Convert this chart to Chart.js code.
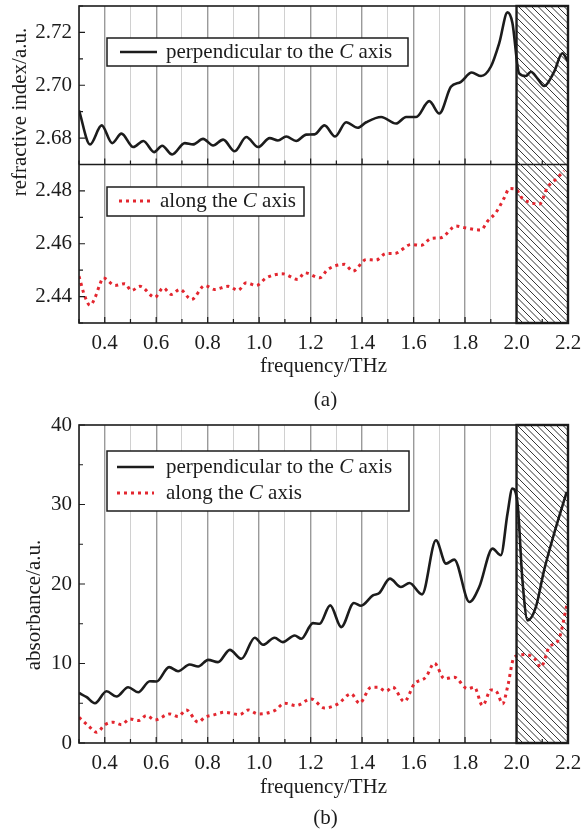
<!DOCTYPE html>
<html>
<head>
<meta charset="utf-8">
<script src="https://cdn.jsdelivr.net/npm/chart.js@4.4.1/dist/chart.umd.min.js"></script>
<style>
  html, body { margin: 0; padding: 0; background: #fff; }
  body { width: 584px; height: 830px; position: relative; overflow: hidden; }
  canvas { position: absolute; left: 0; }
  #chartA { top: 0; }
  #chartB { top: 410px; }
</style>
</head>
<body>
<canvas id="chartA" width="584" height="410"></canvas>
<canvas id="chartB" width="584" height="420"></canvas>
<script>
'use strict';

/* ── values ─────────────────────────────────────────────────────────────── */

// tick labels
const X_LABELS = ['0.4', '0.6', '0.8', '1.0', '1.2', '1.4', '1.6', '1.8', '2.0', '2.2'];
const Y_LABELS_N_HIGH = ['2.68', '2.70', '2.72'];
const Y_LABELS_N_LOW = ['2.44', '2.46', '2.48'];
const Y_LABELS_ABS = ['0', '10', '20', '30', '40'];

// (a) refractive index, perpendicular to the C axis
const A_PERP_F = [0.30, 0.343, 0.388, 0.429, 0.465, 0.511, 0.55, 0.592, 0.623, 0.662, 0.711, 0.743, 0.782,
    0.821, 0.86, 0.905, 0.95, 0.996, 1.041, 1.073, 1.105, 1.144, 1.183, 1.215, 1.254, 1.295, 1.338, 1.383,
    1.416, 1.474, 1.532, 1.571, 1.61, 1.661, 1.70, 1.745, 1.784, 1.826, 1.862, 1.90, 1.933, 1.965, 1.984,
    2.01, 2.036, 2.056, 2.081, 2.107, 2.146, 2.178, 2.2];
const A_PERP_N = [2.6905, 2.6776, 2.6848, 2.6781, 2.6817, 2.6766, 2.6789, 2.6747, 2.6771, 2.6738, 2.6781,
    2.6776, 2.6797, 2.6772, 2.6794, 2.6750, 2.6804, 2.6766, 2.6800, 2.6791, 2.6806, 2.6789, 2.6813, 2.6814,
    2.6848, 2.6806, 2.6860, 2.6839, 2.6860, 2.6880, 2.6855, 2.6880, 2.6880, 2.6940, 2.6893, 2.6994, 2.7013,
    2.7048, 2.7035, 2.7070, 2.7160, 2.7276, 2.7236, 2.7045, 2.7035, 2.7051, 2.7026, 2.6997, 2.7051, 2.7121,
    2.7090];

// (a) refractive index, along the C axis
const A_ALONG_F = [0.30, 0.323, 0.343, 0.362, 0.381, 0.394, 0.44, 0.478, 0.504, 0.537, 0.595, 0.627, 0.659,
    0.692, 0.737, 0.789, 0.827, 0.879, 0.918, 0.95, 0.989, 1.028, 1.092, 1.15, 1.177, 1.235, 1.267, 1.332,
    1.364, 1.416, 1.454, 1.493, 1.526, 1.59, 1.629, 1.668, 1.707, 1.765, 1.797, 1.862, 1.888, 1.92, 1.953,
    1.972, 1.998, 2.023, 2.056, 2.088, 2.12, 2.153, 2.185];
const A_ALONG_N = [2.4477, 2.4400, 2.4367, 2.4395, 2.4446, 2.4471, 2.4442, 2.4449, 2.4423, 2.4439, 2.4397,
    2.4433, 2.4408, 2.4427, 2.4389, 2.4442, 2.4427, 2.4439, 2.4424, 2.4452, 2.4442, 2.4471, 2.4486, 2.4465,
    2.4490, 2.4471, 2.4503, 2.4522, 2.4496, 2.4540, 2.4538, 2.4563, 2.4563, 2.4597, 2.4594, 2.4620, 2.4623,
    2.4667, 2.4661, 2.4652, 2.4686, 2.4718, 2.4775, 2.4809, 2.4806, 2.4771, 2.4756, 2.4749, 2.4813, 2.4844,
    2.4876];

// (b) absorbance, perpendicular to the C axis
const B_PERP_F = [0.30, 0.33, 0.362, 0.407, 0.446, 0.491, 0.53, 0.575, 0.601, 0.65, 0.685, 0.73, 0.763,
    0.802, 0.84, 0.886, 0.931, 0.983, 1.015, 1.06, 1.092, 1.138, 1.164, 1.209, 1.235, 1.276, 1.319, 1.368,
    1.396, 1.442, 1.467, 1.508, 1.551, 1.584, 1.633, 1.687, 1.726, 1.758, 1.817, 1.855, 1.907, 1.939, 1.965,
    1.984, 2.004, 2.023, 2.043, 2.075, 2.107, 2.146, 2.195];
const B_PERP_A = [6.3, 5.76, 5.0, 6.51, 5.84, 7.02, 6.39, 7.77, 7.73, 9.54, 9.03, 9.87, 9.62, 10.46, 10.17,
    11.72, 10.59, 13.24, 12.35, 13.24, 12.69, 13.53, 13.11, 15.08, 15.0, 17.31, 14.58, 17.61, 17.27, 18.57,
    18.87, 20.67, 19.62, 20.13, 18.7, 25.5, 22.56, 23.07, 17.73, 19.62, 24.45, 23.61, 28.87, 32.02, 30.13,
    20.46, 15.42, 17.1, 21.72, 26.34, 31.6];

// (b) absorbance, along the C axis
const B_ALONG_F = [0.30, 0.336, 0.369, 0.401, 0.433, 0.465, 0.498, 0.53, 0.562, 0.595, 0.653, 0.685, 0.717,
    0.763, 0.789, 0.827, 0.866, 0.924, 0.957, 0.996, 1.06, 1.099, 1.144, 1.202, 1.254, 1.306, 1.357, 1.39,
    1.435, 1.461, 1.493, 1.519, 1.564, 1.603, 1.648, 1.681, 1.72, 1.758, 1.81, 1.836, 1.868, 1.901, 1.924,
    1.946, 1.965, 1.991, 2.036, 2.075, 2.094, 2.127, 2.165, 2.195];
const B_ALONG_A = [3.24, 2.18, 1.34, 2.31, 2.61, 2.31, 3.03, 2.82, 3.45, 2.9, 3.66, 3.32, 4.16, 2.61, 3.24,
    3.57, 3.87, 3.57, 4.16, 3.66, 4.08, 5.0, 4.71, 5.55, 4.41, 4.92, 6.18, 5.0, 7.02, 7.02, 6.51, 7.02, 5.21,
    7.44, 8.28, 10.04, 8.07, 8.28, 6.81, 7.02, 4.71, 6.68, 6.39, 4.92, 7.02, 10.8, 11.13, 10.46, 9.54, 12.06,
    13.11, 17.31];

const HATCH_START = 2.0;

/* ── styling ────────────────────────────────────────────────────────────── */

const SERIF = '"Liberation Serif", "Times New Roman", serif';
const FONT_PX = 21;
const INK = '#1c1c1c';
const RED = '#e3262f';
const RED_DASH = [3, 4];

const isMajor = v => Math.round(v * 10) % 2 === 0;
const pairs = (xs, ys) => xs.map((x, i) => ({ x, y: ys[i] }));

// pin the plot area: no automatic label overhang padding
function noOverhang(s) {
    s.paddingTop = 0;
    s.paddingBottom = 0;
    s.paddingLeft = 0;
    s.paddingRight = 0;
}

function xAxis() {
    return {
        type: 'linear',
        min: 0.3,
        max: 2.2,
        afterFit: s => { s.height = 87; noOverhang(s); },
        border: { display: false },
        grid: {
            drawTicks: false,
            color: c => isMajor(c.tick.value) ? '#9a9a9a' : '#d0d0d0',
            lineWidth: c => isMajor(c.tick.value) ? 1.4 : 1,
        },
        ticks: {
            stepSize: 0.1,
            autoSkip: false,
            maxRotation: 0,
            padding: 8,
            color: INK,
            font: { family: SERIF, size: FONT_PX },
            callback: v => X_LABELS.includes(v.toFixed(1)) ? v.toFixed(1) : '',
        },
    };
}

function yAxis(min, max, step, labels, digits, extra) {
    return Object.assign({
        type: 'linear',
        position: 'left',
        min,
        max,
        afterFit: s => { s.width = 79; noOverhang(s); },
        border: { display: false },
        grid: { display: false, drawTicks: false },
        ticks: {
            stepSize: step,
            autoSkip: false,
            padding: 7,
            color: INK,
            font: { family: SERIF, size: FONT_PX },
            callback: v => labels.includes(v.toFixed(digits)) ? v.toFixed(digits) : '',
        },
    }, extra || {});
}

function lineSet(label, data, yAxisID, dashed) {
    return {
        label,
        data,
        yAxisID,
        borderColor: dashed ? RED : INK,
        borderWidth: dashed ? 3 : 2.6,
        borderDash: dashed ? RED_DASH : [],
        borderCapStyle: 'butt',
        pointRadius: 0,
        fill: false,
        cubicInterpolationMode: 'monotone',
    };
}

/* ── text helpers ───────────────────────────────────────────────────────── */

function drawParts(ctx, x, y, parts) {
    ctx.textBaseline = 'middle';
    ctx.textAlign = 'left';
    ctx.fillStyle = INK;
    parts.forEach(p => {
        ctx.font = (p.italic ? 'italic ' : '') + FONT_PX + 'px ' + SERIF;
        ctx.fillText(p.t, x, y);
        x += ctx.measureText(p.t).width;
    });
}

const captionParts = prefix => [{ t: prefix + ' ' }, { t: 'C', italic: true }, { t: ' axis' }];

function drawLegend(ctx, box, rows) {
    const [x0, y0, x1, y1] = box;
    ctx.save();
    ctx.fillStyle = '#fff';
    ctx.fillRect(x0, y0, x1 - x0, y1 - y0);
    ctx.strokeStyle = INK;
    ctx.lineWidth = 1.5;
    ctx.strokeRect(x0, y0, x1 - x0, y1 - y0);
    rows.forEach(r => {
        ctx.beginPath();
        ctx.setLineDash(r.dashed ? RED_DASH : []);
        ctx.strokeStyle = r.dashed ? RED : INK;
        ctx.lineWidth = r.dashed ? 3 : 2.6;
        ctx.moveTo(r.lx0, r.y);
        ctx.lineTo(r.lx1, r.y);
        ctx.stroke();
        ctx.setLineDash([]);
        drawParts(ctx, r.tx, r.y, r.parts);
    });
    ctx.restore();
}

/* ── frame, hatch, inward ticks, titles ─────────────────────────────────── */

function decorPlugin(cfg) {
    return {
        id: 'decor',
        beforeDatasetsDraw(chart) {
            const { ctx, chartArea: a, scales } = chart;
            const x0 = scales.x.getPixelForValue(HATCH_START);
            const h = a.bottom - a.top;
            ctx.save();
            ctx.beginPath();
            ctx.rect(x0, a.top, a.right - x0, h);
            ctx.clip();
            ctx.fillStyle = '#fff';
            ctx.fillRect(x0, a.top, a.right - x0, h);
            ctx.strokeStyle = '#333';
            ctx.lineWidth = 1;
            ctx.beginPath();
            for (let s = x0 - h; s < a.right + 2; s += 6.5) {
                ctx.moveTo(s, a.top);
                ctx.lineTo(s + h, a.bottom);
            }
            ctx.stroke();
            ctx.restore();
        },
        afterDatasetsDraw(chart) {
            const { ctx, chartArea: a, scales } = chart;
            const xs = scales.x;
            ctx.save();
            ctx.strokeStyle = INK;

            // inward x ticks on the bottom axis and on any panel separator
            const bases = [a.bottom].concat(cfg.yIds.slice(1).map(id => scales[id].bottom));
            ctx.lineWidth = 1.2;
            ctx.beginPath();
            xs.ticks.forEach(t => {
                const px = xs.getPixelForValue(t.value);
                const len = isMajor(t.value) ? 6 : 4;
                bases.forEach(b => { ctx.moveTo(px, b); ctx.lineTo(px, b - len); });
            });
            // inward y ticks
            cfg.yIds.forEach(id => {
                const ys = scales[id];
                ys.ticks.forEach(t => {
                    const py = ys.getPixelForValue(t.value);
                    const len = t.label ? 6 : 4;
                    ctx.moveTo(a.left, py);
                    ctx.lineTo(a.left + len, py);
                });
            });
            ctx.stroke();

            // frame and separators
            ctx.lineWidth = 1.6;
            ctx.strokeRect(a.left, a.top, a.right - a.left, a.bottom - a.top);
            ctx.beginPath();
            bases.slice(1).forEach(b => { ctx.moveTo(a.left, b); ctx.lineTo(a.right, b); });
            ctx.stroke();

            // hatched region border
            const hx = xs.getPixelForValue(HATCH_START);
            ctx.lineWidth = 2.4;
            ctx.strokeRect(hx, a.top, a.right - hx, a.bottom - a.top);
            ctx.restore();

            cfg.legends.forEach(l => drawLegend(ctx, l.box, l.rows));

            // axis titles and panel caption
            ctx.save();
            ctx.fillStyle = INK;
            ctx.font = FONT_PX + 'px ' + SERIF;
            ctx.textAlign = 'center';
            ctx.textBaseline = 'middle';
            const cx = (a.left + a.right) / 2;
            ctx.fillText('frequency/THz', cx, cfg.xTitleY);
            ctx.fillText(cfg.caption, cx + 2, cfg.captionY);
            ctx.translate(cfg.yTitleX, cfg.yTitleY);
            ctx.rotate(-Math.PI / 2);
            ctx.fillText(cfg.yTitle, 0, 0);
            ctx.restore();
        },
    };
}

const baseOptions = (scales, padTop) => ({
    responsive: false,
    animation: false,
    layout: { padding: { top: padTop, right: 16, left: 0, bottom: 0 } },
    plugins: { legend: { display: false }, tooltip: { enabled: false } },
    scales,
});

/* ── (a) refractive index, split axis ───────────────────────────────────── */

new Chart(document.getElementById('chartA'), {
    type: 'line',
    data: {
        datasets: [
            lineSet('perpendicular to the C axis', pairs(A_PERP_F, A_PERP_N), 'yHigh', false),
            lineSet('along the C axis', pairs(A_ALONG_F, A_ALONG_N), 'yLow', true),
        ],
    },
    options: baseOptions({
        x: xAxis(),
        yLow: yAxis(2.43, 2.49, 0.01, Y_LABELS_N_LOW, 2, { stack: 'n', stackWeight: 1 }),
        yHigh: yAxis(2.67, 2.73, 0.01, Y_LABELS_N_HIGH, 2, { stack: 'n', stackWeight: 1 }),
    }, 6),
    plugins: [decorPlugin({
        yIds: ['yLow', 'yHigh'],
        yTitle: 'refractive index/a.u.',
        yTitleX: 20,
        yTitleY: 112,
        xTitleY: 366,
        caption: '(a)',
        captionY: 400,
        legends: [
            { box: [107, 38, 408, 66], rows: [{ y: 52, lx0: 120, lx1: 157, tx: 166, parts: captionParts('perpendicular to the') }] },
            { box: [107, 187, 304, 216], rows: [{ y: 201, lx0: 119, lx1: 153, tx: 160, dashed: true, parts: captionParts('along the') }] },
        ],
    })],
});

/* ── (b) absorbance ─────────────────────────────────────────────────────── */

new Chart(document.getElementById('chartB'), {
    type: 'line',
    data: {
        datasets: [
            lineSet('perpendicular to the C axis', pairs(B_PERP_F, B_PERP_A), 'y', false),
            lineSet('along the C axis', pairs(B_ALONG_F, B_ALONG_A), 'y', true),
        ],
    },
    options: baseOptions({
        x: xAxis(),
        y: yAxis(0, 40, 5, Y_LABELS_ABS, 0),
    }, 15),
    plugins: [decorPlugin({
        yIds: ['y'],
        yTitle: 'absorbance/a.u.',
        yTitleX: 34,
        yTitleY: 195,
        xTitleY: 377,
        caption: '(b)',
        captionY: 408,
        legends: [
            {
                box: [107, 41, 409, 101],
                rows: [
                    { y: 57, lx0: 117, lx1: 154, tx: 166, parts: captionParts('perpendicular to the') },
                    { y: 83, lx0: 117, lx1: 154, tx: 166, dashed: true, parts: captionParts('along the') },
                ],
            },
        ],
    })],
});
</script>
</body>
</html>
